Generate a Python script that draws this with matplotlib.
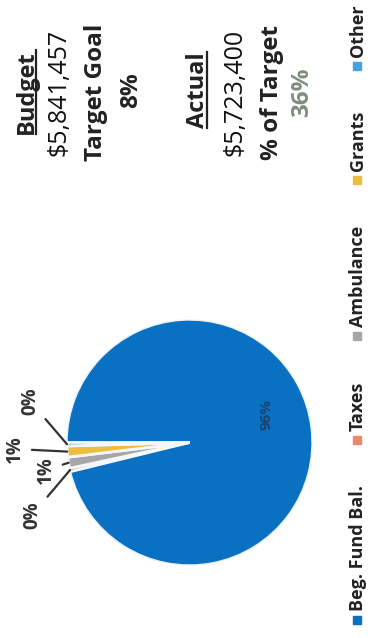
import matplotlib
matplotlib.use('Agg')
import matplotlib.pyplot as plt
from matplotlib.patches import Rectangle
from matplotlib.lines import Line2D
import numpy as np

# Revenue sources
categories = ['Beg. Fund Bal.', 'Taxes', 'Ambulance', 'Grants', 'Other']
values = [95.6, 0.45, 1.45, 1.45, 0.45]
colors = ['#0A70C2', '#E8896C', '#A6A6A6', '#EDBE3C', '#46A3E0']

# Summary block
budget_label = 'Budget'
budget_amount = '$5,841,457'
target_goal_label = 'Target Goal'
target_goal = '8%'
actual_label = 'Actual'
actual_amount = '$5,723,400'
pct_target_label = '% of Target'
pct_target = '36%'

W, H = 372, 638
plt.rcParams['font.family'] = ['Open Sans', 'DejaVu Sans']
fig = plt.figure(figsize=(W / 100, H / 100), dpi=100)
fig.patch.set_facecolor('white')

def fx(x):
    return x / W

def fy(y):
    return 1 - y / H

TEXT = '#222222'

# ---- pie ----
cx, cy, r = 189.5, 442.5, 122.5
ax = fig.add_axes([fx(cx - r), fy(cy + r), 2 * r / W, 2 * r / H])
wedges, _ = ax.pie(values, colors=colors, startangle=180, counterclock=False,
                   radius=1, wedgeprops=dict(edgecolor='#F4F8FC', linewidth=2.0))
wedges[0].set_edgecolor('#E8F1FA')
wedges[0].set_linewidth(1.0)
ax.set_xlim(-1, 1)
ax.set_ylim(-1, 1)
ax.axis('off')

total = sum(values)
pcts = [v / total * 100 for v in values]

def mid_angle(w):
    return np.deg2rad((w.theta1 + w.theta2) / 2)

# label inside the large slice
a0 = mid_angle(wedges[0])
ax.text(0.63 * np.cos(a0), 0.63 * np.sin(a0) + 0.15, f'{pcts[0]:.0f}%', rotation=90,
        ha='center', va='center', fontsize=11, fontweight='bold', color='#1b4470')

# outside labels for the small slices (pixel positions of the label centres)
label_pos = {'Taxes': (32, 515), 'Ambulance': (46, 470), 'Grants': (15, 449), 'Other': (30, 401)}
for w, cat, p in zip(wedges[1:], categories[1:], pcts[1:]):
    a = mid_angle(w)
    lx, ly = label_pos[cat]
    ax.annotate(f'{p:.0f}%', xy=(np.cos(a), np.sin(a)), xycoords='data',
                xytext=(fx(lx), fy(ly)), textcoords='figure fraction',
                rotation=90, ha='center', va='center', fontsize=13.5,
                fontweight='bold', color='#333333',
                arrowprops=dict(arrowstyle='-', color='#333333', lw=1.6,
                                shrinkA=3, shrinkB=0))

# ---- summary text (rotated) ----
fig.canvas.draw()
renderer = fig.canvas.get_renderer()

def rtext(x, y, s, size=17.5, weight='bold', color=TEXT, underline=False):
    t = fig.text(fx(x), fy(y), s, rotation=90, ha='center', va='center',
                 fontsize=size, fontweight=weight, color=color)
    if underline:
        bb = t.get_window_extent(renderer)
        ux = bb.x1 - 0.12 * size * 100 / 72
        fig.add_artist(Line2D([ux / W, ux / W], [bb.y0 / H, bb.y1 / H],
                              transform=fig.transFigure, color=color, lw=1.6))
    return t

rtext(27, 92, budget_label, size=17, underline=True)
rtext(59, 92, budget_amount, size=18, weight='normal', color='#111111')
rtext(96, 92, target_goal_label)
rtext(131, 90, target_goal)
rtext(198, 90, actual_label, size=17, underline=True)
rtext(235, 92, actual_amount, size=18, weight='normal', color='#111111')
rtext(272, 92, pct_target_label)
rtext(302, 92, pct_target, color='#7C8E7E')

# ---- legend along the right edge, reading bottom to top ----
lxp = 357
y_start, y_end = 620, 4
texts = []
for cat in categories:
    t = fig.text(fx(lxp + 1), 0, cat, rotation=90, ha='center', va='bottom',
                 fontsize=13, fontweight='bold', color=TEXT)
    texts.append(t)
lengths = [t.get_window_extent(renderer).height for t in texts]
offset = 9  # from marker centre to start of its text
gap = ((y_start - y_end) - sum(lengths) - offset * len(categories)) / (len(categories) - 1)
y = y_start
for t, col, L in zip(texts, colors, lengths):
    fig.add_artist(Rectangle((fx(lxp - 4), fy(y + 4)), 8 / W, 8 / H,
                             transform=fig.transFigure, color=col))
    t.set_y(fy(y - offset))
    y = y - offset - L - gap

fig.savefig('out.png', dpi=100, facecolor='white')
